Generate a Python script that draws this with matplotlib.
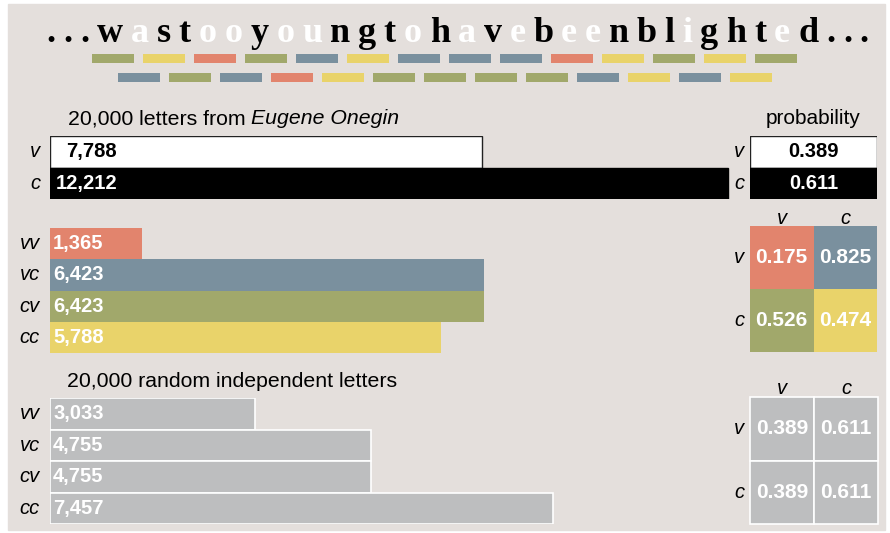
import matplotlib.pyplot as plt
from matplotlib.patches import Rectangle
from matplotlib.font_manager import FontProperties

# data
phrase = "wastooyoungtohavebeenblighted"
vowels = "aeiou"
single_labels = ["v", "c"]
single_counts = [7788, 12212]
single_prob = [0.389, 0.611]
pair_labels = ["vv", "vc", "cv", "cc"]
onegin_pairs = [1365, 6423, 6423, 5788]
random_pairs = [3033, 4755, 4755, 7457]
trans_onegin = [[0.175, 0.825], [0.526, 0.474]]
trans_random = [[0.389, 0.611], [0.389, 0.611]]

BG = "#e4dfdc"
GRAY = "#bdbebf"
pair_colors = {"vv": "#e2846d", "vc": "#7a909e", "cv": "#a1a86b", "cc": "#e9d36a"}
SANS = "Liberation Sans"
SERIF = "Liberation Serif"

W, H = 890, 533
fig = plt.figure(figsize=(W / 100, H / 100), dpi=100)
fig.patch.set_facecolor("white")
fig.add_artist(Rectangle((8 / W, 1 - 530 / H), (885 - 8) / W, (530 - 4) / H,
                         transform=fig.transFigure, color=BG, zorder=0))
r = fig.canvas.get_renderer()


def px_axes(x0, y0, x1, y1):
    ax = fig.add_axes([x0 / W, 1 - y1 / H, (x1 - x0) / W, (y1 - y0) / H])
    ax.set_facecolor("none")
    ax.axis("off")
    return ax


def px(p):
    # pixels -> points for offsets
    return p * 72 / 100


def kind(ch):
    return "v" if ch in vowels else "c"


# ---- phrase with letter spacing ----
text = "..." + phrase + "..."
serif_prop = FontProperties(family=SERIF, weight="bold", size=26)
letters = []
for ch in text:
    col = "black" if ch == "." or kind(ch) == "c" else "white"
    letters.append(fig.text(0, 1 - 42 / H, ch, fontproperties=serif_prop, color=col,
                            ha="left", va="baseline"))
widths = [t.get_window_extent(r).width for t in letters]
x_left, x_right = 46, 869
track = (x_right - x_left - sum(widths)) / (len(text) - 1)
x = x_left
for t, w in zip(letters, widths):
    t.set_x(x / W)
    x += w + track

# ---- pair strip under the phrase ----
ax = px_axes(0, 49, W, 87)
pairs = [kind(phrase[k]) + kind(phrase[k + 1]) for k in range(len(phrase) - 1)]
ks = list(range(len(pairs) - 1))
ax.bar(ks, [0.52] * len(ks), bottom=[(k % 2) - 0.26 for k in ks], width=42 / 25.5,
       color=[pair_colors[pairs[k]] for k in ks])
ax.set_xlim(-113 / 25.5, (W - 113) / 25.5)
ax.set_ylim(1.5, -0.5)


# ---- left bar charts ----
def bar_group(ax, labels, values, colors, scale, edge, lw, txtcol, right_align=False):
    ax.barh(range(len(values)), values, height=1, color=colors, edgecolor=edge, linewidth=lw)
    ax.set_ylim(len(values) - 0.5, -0.5)
    ax.set_xlim(0, 690 / scale)
    for i, (lab, v) in enumerate(zip(labels, values)):
        ax.annotate(lab, xy=(0, i), xytext=(px(-10), 0), textcoords="offset points",
                    ha="right", va="center", style="italic", fontsize=14.5,
                    family=SANS, annotation_clip=False)
        if right_align:
            ax.annotate(f"{v:,}", xy=(0, i), xytext=(px(67), 0), textcoords="offset points",
                        ha="right", va="center", fontweight="bold", fontsize=14.5,
                        family=SANS, color=txtcol[i])
        else:
            ax.annotate(f"{v:,}", xy=(0, i), xytext=(px(3), 0), textcoords="offset points",
                        ha="left", va="center", fontweight="bold", fontsize=14.5,
                        family=SANS, color=txtcol[i])


ax1 = px_axes(50, 136, 740, 199)
bar_group(ax1, single_labels, single_counts, ["white", "black"], 0.0555,
          ["#222222", "black"], 1.0, ["black", "white"], right_align=True)
t0 = ax1.text(18 / 690, 1 + 17 / 63, "20,000 letters from", transform=ax1.transAxes,
              family=SANS, fontsize=15.3, ha="left", va="center")
w0 = t0.get_window_extent(r).width + 5
ax1.text((18 + w0) / 690, 1 + 17 / 63, "Eugene Onegin", transform=ax1.transAxes,
         family=SANS, fontsize=15.3, style="italic", ha="left", va="center")

ax2 = px_axes(50, 228, 740, 353)
bar_group(ax2, pair_labels, onegin_pairs, [pair_colors[p] for p in pair_labels],
          0.0675, "none", 0, ["white"] * 4)

ax3 = px_axes(50, 398, 740, 524)
bar_group(ax3, pair_labels, random_pairs, [GRAY] * 4, 0.0675, "white", 1.2,
          ["white"] * 4)
ax3.text(17 / 690, 1 + 16 / 126, "20,000 random independent letters",
         transform=ax3.transAxes, family=SANS, fontsize=15.3, ha="left", va="center")

# ---- right panel ----
axp = px_axes(750, 136, 877, 199)
axp.set_xlim(0, 1)
axp.set_ylim(2, 0)
for i, p in enumerate(single_prob):
    fc = "white" if i == 0 else "black"
    axp.add_patch(Rectangle((0, i), 1, 1, facecolor=fc,
                            edgecolor="#222222" if i == 0 else "black", linewidth=1))
    axp.text(0.5, i + 0.5, f"{p:.3f}", ha="center", va="center", fontweight="bold",
             fontsize=14.5, family=SANS, color="black" if i == 0 else "white")
    axp.annotate(single_labels[i], xy=(0, i + 0.5), xytext=(px(-6), 0),
                 textcoords="offset points", ha="right", va="center", style="italic",
                 fontsize=14.5, family=SANS, annotation_clip=False)
axp.text(0.5, 1 + 17 / 63, "probability", transform=axp.transAxes, ha="center",
         va="center", family=SANS, fontsize=15)


def matrix(ax, vals, colors, edge, lw):
    ax.set_xlim(0, 2)
    ax.set_ylim(2, 0)
    for i in range(2):
        for j in range(2):
            ax.add_patch(Rectangle((j, i), 1, 1, facecolor=colors[i][j], edgecolor=edge,
                                   linewidth=lw, clip_on=False))
            ax.text(j + 0.5, i + 0.5, f"{vals[i][j]:.3f}", ha="center", va="center",
                    fontweight="bold", fontsize=15, family=SANS, color="white")
        ax.annotate(single_labels[i], xy=(0, i + 0.5), xytext=(px(-6), 0),
                    textcoords="offset points", ha="right", va="center", style="italic",
                    fontsize=14.5, family=SANS, annotation_clip=False)
        ax.annotate(single_labels[i], xy=(i + 0.5, 0), xytext=(0, px(8)),
                    textcoords="offset points", ha="center", va="center", style="italic",
                    fontsize=14.5, family=SANS, annotation_clip=False)


axm = px_axes(750, 226, 877, 352)
matrix(axm, trans_onegin, [[pair_colors[a + b] for b in "vc"] for a in "vc"], "none", 0)

axr = px_axes(750, 397, 878, 524)
matrix(axr, trans_random, [[GRAY] * 2] * 2, "white", 1.2)

fig.savefig("out.png", dpi=100, facecolor=fig.get_facecolor())
